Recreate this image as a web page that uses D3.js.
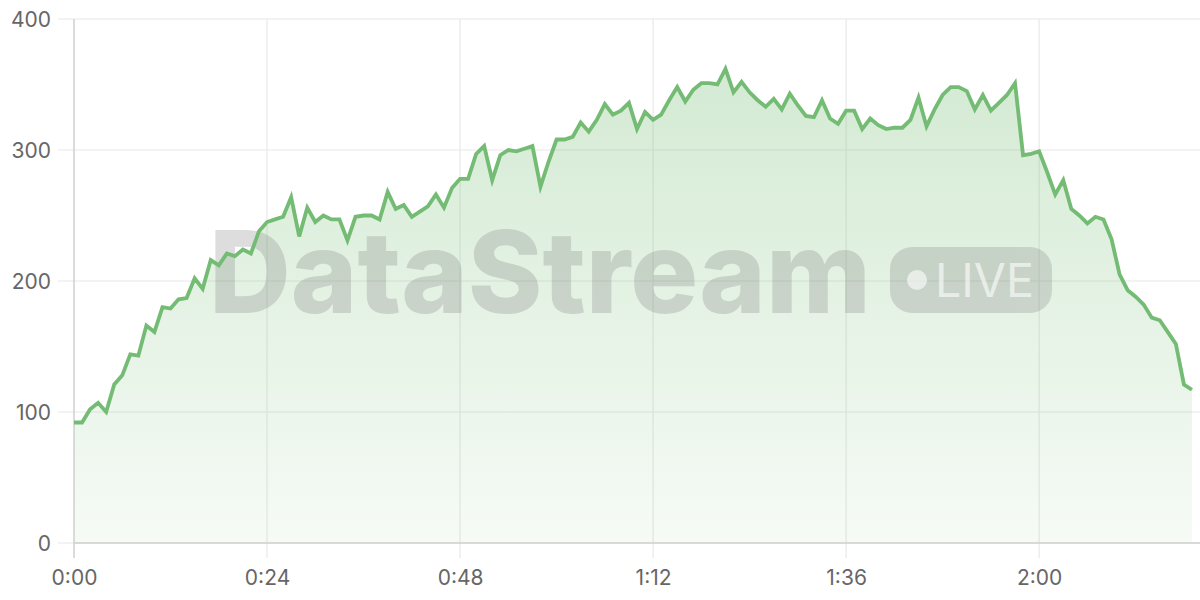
<!DOCTYPE html>
<html>
<head>
<meta charset="utf-8">
<script src="https://cdn.jsdelivr.net/npm/d3@7/dist/d3.min.js"></script>
<style>
  html, body { margin: 0; padding: 0; background: #ffffff; }
  svg { display: block; }
</style>
</head>
<body>
<svg id="chart" width="1200" height="600"></svg>
<script>
// Time in minutes (0..139), one sample per minute
const values = [
  92, 92, 102, 107, 100, 121, 128, 144, 143, 166,
  161, 180, 179, 186, 187, 202, 194, 216, 212, 221,
  219, 224, 221, 238, 245, 247, 249, 264, 234, 256,
  245, 250, 247, 247, 231, 249, 250, 250, 247, 268,
  255, 258, 249, 253, 257, 266, 256, 271, 278, 278,
  297, 303, 277, 296, 300, 299, 301, 303, 272, 291,
  308, 308, 310, 321, 314, 323, 335, 327, 330, 336,
  316, 329, 323, 327, 338, 348, 337, 346, 351, 351,
  350, 362, 344, 352, 344, 338, 333, 339, 331, 343,
  334, 326, 325, 338, 324, 320, 330, 330, 316, 324,
  319, 316, 317, 317, 323, 340, 318, 331, 342, 348,
  348, 345, 331, 342, 330, 336, 342, 351, 296, 297,
  299, 283, 266, 277, 255, 250, 244, 249, 247, 232,
  205, 193, 188, 182, 172, 170, 161, 152, 121, 117
];
const times = values.map((v, i) => i);
const xTicks = [0, 24, 48, 72, 96, 120];
const yTicks = [0, 100, 200, 300, 400];
const watermarkText = "DataStream";
const badgeText = "LIVE";

(function () {
const svg = d3.select("#chart");
const mLeft = 74, mRight = 1200, mTop = 19, mBottom = 543;

const x = d3.scaleLinear().domain([0, 140]).range([mLeft, mRight]);
const y = d3.scaleLinear().domain([0, 400]).range([mBottom, mTop]);

const fmt = t => Math.floor(t / 60) + ":" + String(t % 60).padStart(2, "0");

// gradient
const defs = svg.append("defs");
const grad = defs.append("linearGradient")
  .attr("id", "areaGrad")
  .attr("gradientUnits", "userSpaceOnUse")
  .attr("x1", 0).attr("x2", 0).attr("y1", y(360)).attr("y2", y(0));
grad.append("stop").attr("offset", "0%").attr("stop-color", "#7cc07c").attr("stop-opacity", 0.33);
grad.append("stop").attr("offset", "100%").attr("stop-color", "#7cc07c").attr("stop-opacity", 0.07);

// horizontal grid
svg.append("g")
  .selectAll("line")
  .data(yTicks)
  .join("line")
  .attr("x1", 58).attr("x2", mRight)
  .attr("y1", d => y(d)).attr("y2", d => y(d))
  .attr("stroke", "#e8e8e8").attr("stroke-width", 1.2);

// vertical grid
svg.append("g")
  .selectAll("line")
  .data(xTicks.slice(1))
  .join("line")
  .attr("x1", d => x(d)).attr("x2", d => x(d))
  .attr("y1", mTop).attr("y2", 558)
  .attr("stroke", "#e8e8e8").attr("stroke-width", 1.2);

// area
const area = d3.area()
  .x((d, i) => x(times[i]))
  .y0(y(0))
  .y1(d => y(d));
svg.append("path")
  .datum(values)
  .attr("d", area)
  .attr("fill", "url(#areaGrad)");

// watermark
const wm = svg.append("g").attr("opacity", 0.25);
wm.append("text")
  .attr("x", 209).attr("y", 313)
  .attr("font-family", "Inter, 'Open Sans', sans-serif")
  .attr("font-weight", 800)
  .attr("font-size", 114)
  .attr("textLength", 662)
  .attr("lengthAdjust", "spacingAndGlyphs")
  .attr("fill", "#7a7a7a")
  .text(watermarkText);
wm.append("rect")
  .attr("x", 890).attr("y", 247).attr("width", 162).attr("height", 66)
  .attr("rx", 22).attr("fill", "#7a7a7a");
const badgeFg = svg.append("g").attr("opacity", 0.6);
badgeFg.append("circle")
  .attr("cx", 917).attr("cy", 280).attr("r", 10).attr("fill", "#ffffff");
badgeFg.append("text")
  .attr("x", 935).attr("y", 297)
  .attr("font-family", "Inter, 'Open Sans', sans-serif")
  .attr("font-weight", 400)
  .attr("font-size", 46)
  .attr("textLength", 99)
  .attr("lengthAdjust", "spacingAndGlyphs")
  .attr("fill", "#ffffff")
  .text(badgeText);

// axes lines
svg.append("line")
  .attr("x1", mLeft).attr("x2", mLeft).attr("y1", mTop).attr("y2", 558)
  .attr("stroke", "#cfcfcf").attr("stroke-width", 1.5);
svg.append("line")
  .attr("x1", mLeft).attr("x2", mRight).attr("y1", mBottom).attr("y2", mBottom)
  .attr("stroke", "#d0d0d0").attr("stroke-width", 1.5);

// line
const line = d3.line()
  .x((d, i) => x(times[i]))
  .y(d => y(d));
svg.append("path")
  .datum(values)
  .attr("d", line)
  .attr("fill", "none")
  .attr("stroke", "#74bb74")
  .attr("stroke-width", 3.8)
  .attr("stroke-linejoin", "miter")
  .attr("stroke-linecap", "butt");

// y labels
const yAxis = d3.axisLeft(y).tickValues(yTicks).tickSize(0).tickPadding(0);
const gy = svg.append("g").attr("transform", "translate(51,0)").call(yAxis);
gy.select(".domain").remove();
gy.selectAll("text")
  .attr("font-family", "Inter, 'Open Sans', sans-serif")
  .attr("font-size", 21)
  .attr("fill", "#666666")
  .attr("dy", "0.35em");

// x labels
const xAxis = d3.axisBottom(x).tickValues(xTicks).tickFormat(fmt).tickSize(0).tickPadding(0);
const gx = svg.append("g").attr("transform", "translate(0,570)").call(xAxis);
gx.select(".domain").remove();
gx.selectAll("text")
  .attr("font-family", "Inter, 'Open Sans', sans-serif")
  .attr("font-size", 21)
  .attr("fill", "#666666")
  .attr("dy", "0.71em");
})();
</script>
</body>
</html>
